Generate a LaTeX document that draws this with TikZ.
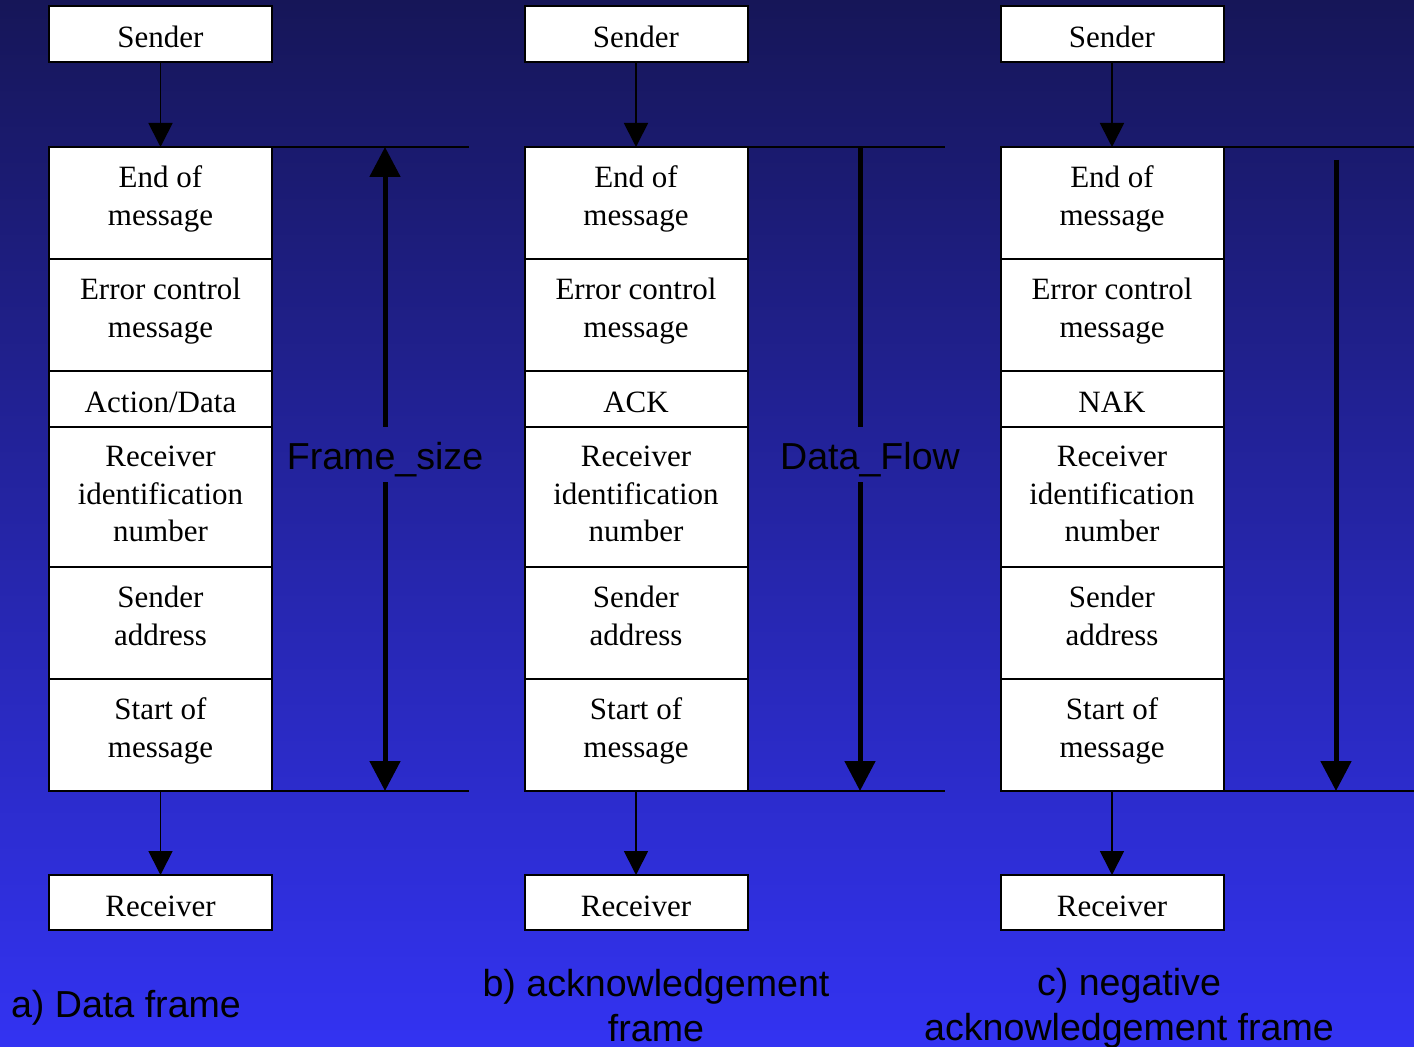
\documentclass[tikz,border=0pt]{standalone}
\usepackage{fontspec}
\setmainfont{Liberation Serif}
\newfontfamily\labelfont{Liberation Sans}
\usetikzlibrary{arrows.meta}
\definecolor{bgtop}{RGB}{22,22,88}
\definecolor{bgmid}{RGB}{40,40,200}
\definecolor{bgbot}{RGB}{51,51,242}
\begin{document}
\begin{tikzpicture}[x=0.5pt,y=-0.5pt,
  box/.style={draw=black, line width=1pt, fill=white, minimum width=111.5pt,
    inner sep=0pt, outer sep=0pt, align=center, text=black,
    font=\fontsize{15.5}{18.75}\selectfont},
  oneline/.style={text height=13.5pt, text depth=0pt},
  twoline/.style={text depth=7.5pt},
  conn/.style={draw=black, line width=0.9pt, -{Triangle[width=12pt,length=12pt]}},
  rule/.style={draw=black, line width=1pt},
  flow/.style={draw=black, line width=2.5pt},
  bigtip/.style={arrows={-Triangle[width=15pt,length=15pt]}},
  bigtail/.style={arrows={Triangle[width=15pt,length=15pt]-}},
  caption/.style={font=\labelfont\fontsize{18.8}{22.5}\selectfont, align=center,
    inner sep=0pt, text=black}]
% background
\shade[top color=bgtop, middle color=bgmid, bottom color=bgbot]
  (0,0) rectangle (1414,1047);
\useasboundingbox (0,0) rectangle (1414,1047);

% three frame stacks
\foreach \n/\cx/\mid in {a/160.5/{Action/Data}, b/636/ACK, c/1112/NAK} {
  \node[box, oneline, minimum height=28pt]   (snd\n) at (\cx,34)    {Sender};
  \node[box, twoline, minimum height=56pt]   (eom\n) at (\cx,203)   {End of\\message};
  \node[box, twoline, minimum height=56pt]   (err\n) at (\cx,315)   {Error control\\message};
  \node[box, oneline, minimum height=28pt]   (act\n) at (\cx,399)   {\mid};
  \node[box, text depth=3pt, minimum height=70pt] (rid\n) at (\cx,497) {Receiver\\identification\\number};
  \node[box, twoline, minimum height=56pt]   (sad\n) at (\cx,623)   {Sender\\address};
  \node[box, twoline, minimum height=56pt]   (som\n) at (\cx,735)   {Start of\\message};
  \node[box, oneline, minimum height=27.5pt] (rcv\n) at (\cx,902.5) {Receiver};
  \draw[conn] (snd\n) -- (eom\n);
  \draw[conn] (som\n) -- (rcv\n);
}

% extent lines beside each stack
\coordinate (ta) at (469,147);  \coordinate (ba) at (469,791);
\coordinate (tb) at (945,147);  \coordinate (bb) at (945,791);
\coordinate (tc) at (1414,147); \coordinate (bc) at (1414,791);
\draw[rule] (eoma.north east) -- (ta);
\draw[rule] (soma.south east) -- (ba);
\draw[rule] (eomb.north east) -- (tb);
\draw[rule] (somb.south east) -- (bb);
\draw[rule] (eomc.north east) -- (tc);
\draw[rule] (somc.south east) -- (bc);

% frame size (two-headed)
\node[caption, minimum height=27.5pt] (fsz) at (385,460) {Frame\_size};
\draw[flow, bigtail] (ta -| fsz) -- ([yshift=2.75pt]fsz.north);
\draw[flow, bigtip] ([yshift=2.75pt]fsz.south) -- (ba -| fsz);

% data flow
\node[caption, minimum height=27.5pt] (dfl) at (870,460) {Data\_Flow};
\coordinate (dfx) at (860,460);
\draw[flow] (tb -| dfx) -- ([yshift=2.75pt]dfl.north -| dfx);
\draw[flow, bigtip] ([yshift=2.75pt]dfl.south -| dfx) -- (bb -| dfx);

% nak flow
\coordinate (nakTop) at (1336,160);
\draw[flow, bigtip] (nakTop) -- (bc -| nakTop);

% captions
\node[caption] (capa) at (126,1008) {a) Data frame};
\node[caption] (capb) at (656,1006) {b) acknowledgement\\frame};
\node[caption] (capc) at (1129,1008) {c) negative\\acknowledgement frame};
\end{tikzpicture}
\end{document}
